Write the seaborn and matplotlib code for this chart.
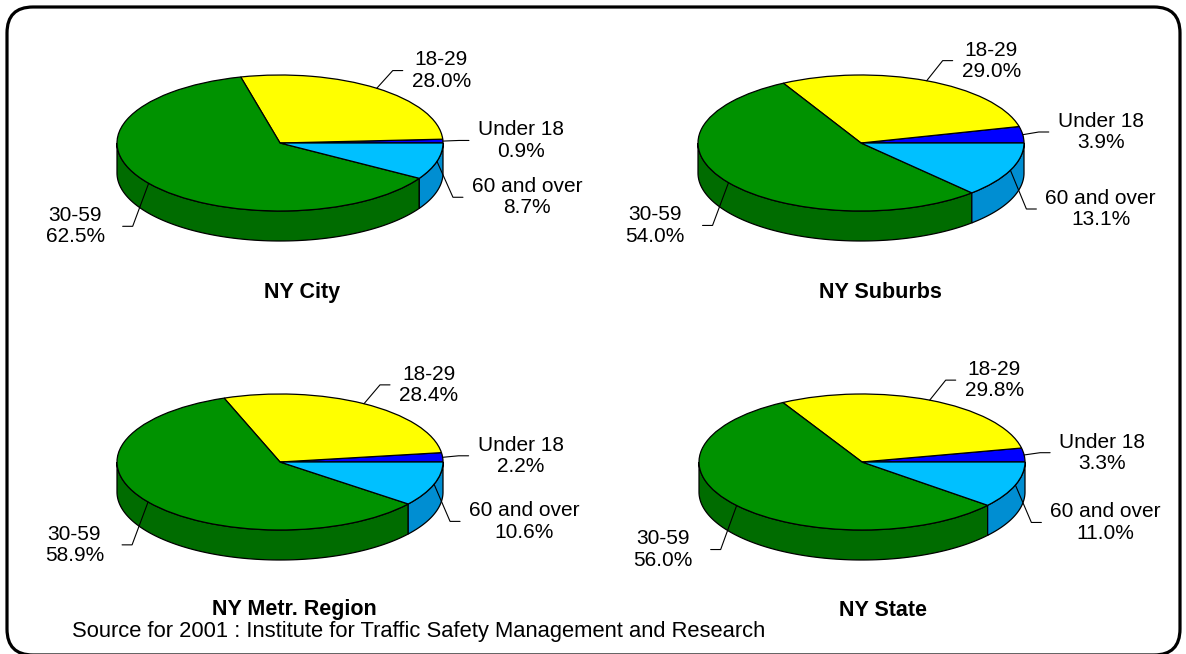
import numpy as np
import matplotlib.pyplot as plt
import seaborn as sns
from matplotlib.patches import FancyBboxPatch
from matplotlib.transforms import IdentityTransform

# -------------------------------
# Data (percent of drivers by age group)
# -------------------------------
groups = ["Under 18", "18-29", "30-59", "60 and over"]
regions = ["NY City", "NY Suburbs", "NY Metr. Region", "NY State"]
ny_city = [0.9, 28.0, 62.5, 8.7]
ny_suburbs = [3.9, 29.0, 54.0, 13.1]
ny_metr = [2.2, 28.4, 58.9, 10.6]
ny_state = [3.3, 29.8, 56.0, 11.0]
source = "Source for 2001 : Institute for Traffic Safety Management and Research"

top_colors = ["#0000FF", "#FFFF00", "#009200", "#00C0FF"]
side_colors = ["#0000B0", "#B0B000", "#006C00", "#008ED2"]

# -------------------------------
# Layout (pixels)
# -------------------------------
W, H = 1186, 654
RX, RY, DEPTH = 163, 68, 30
K = RY / RX
centers = [(280, 143), (861, 143), (280, 462), (862, 462)]
title_pos = [(302, 292), (880, 292), (294, 610), (883, 610)]

sns.set_theme(style="white")
plt.rcParams["font.family"] = ["Liberation Sans", "DejaVu Sans"]
plt.rcParams["text.color"] = "black"

fig = plt.figure(figsize=(W / 100, H / 100), dpi=100)
ax = fig.add_axes([0, 0, 1, 1])


def Y(py):
    # pixel row -> data y (y squashed so circles become ellipses)
    return (H - py) / K


for vals, name, (cx, cy), (tx, ty) in zip([ny_city, ny_suburbs, ny_metr, ny_state],
                                          regions, centers, title_pos):
    fracs = np.array(vals) / sum(vals)
    edges = np.concatenate([[0], np.cumsum(fracs)]) * 360

    # ---------- side walls (front half only) ----------
    for i in range(len(vals)):
        a1, a2 = max(edges[i], 180), min(edges[i + 1], 360)
        if a2 <= a1:
            continue
        t = np.radians(np.linspace(a1, a2, 100))
        xs = cx + RX * np.cos(t)
        ys = Y(cy) + RX * np.sin(t)
        ax.fill(np.concatenate([xs, xs[::-1]]),
                np.concatenate([ys, ys[::-1] - DEPTH / K]),
                facecolor=side_colors[i], edgecolor="black", lw=0.9, zorder=1)

    # ---------- top of the pie ----------
    ax.pie(vals, colors=top_colors, startangle=0, counterclock=True,
           radius=RX, center=(cx, Y(cy)),
           wedgeprops=dict(edgecolor="black", linewidth=0.9, zorder=2))

    # ---------- labels with leader lines ----------
    for i, (lab, v) in enumerate(zip(groups, vals)):
        m = np.radians((edges[i] + edges[i + 1]) / 2)
        c, s = np.cos(m), np.sin(m)
        sgn = 1 if c >= 0 else -1
        x0, y0 = cx + RX * c, cy - RY * s
        x1 = x0 + 16 * sgn
        y1 = y0 - 22 * s + (DEPTH if s < 0 else 0)
        x2 = x1 + 10 * sgn
        ax.plot([x0, x1, x2], [Y(y0), Y(y1), Y(y1)], color="black", lw=0.8, zorder=3)
        gap = 9 if sgn > 0 else 18
        ax.text(x2 + gap * sgn, Y(y1), f"{lab}\n{v:.1f}%",
                ha="left" if sgn > 0 else "right", va="center",
                multialignment="center", fontsize=15, linespacing=1.15)

    ax.text(tx, Y(ty), name, ha="center", va="center",
            fontsize=15.5, fontweight="bold")

ax.text(72, Y(631), source, ha="left", va="center", fontsize=15.8)

ax.set_aspect("auto")
ax.set_xlim(0, W)
ax.set_ylim(0, H / K)
ax.axis("off")

# rounded frame
frame = FancyBboxPatch((7, -1), 1173, 648, boxstyle="round,pad=0,rounding_size=26",
                       transform=IdentityTransform(), facecolor="none",
                       edgecolor="black", linewidth=2.3)
fig.add_artist(frame)

fig.savefig("out.png", dpi=100)
